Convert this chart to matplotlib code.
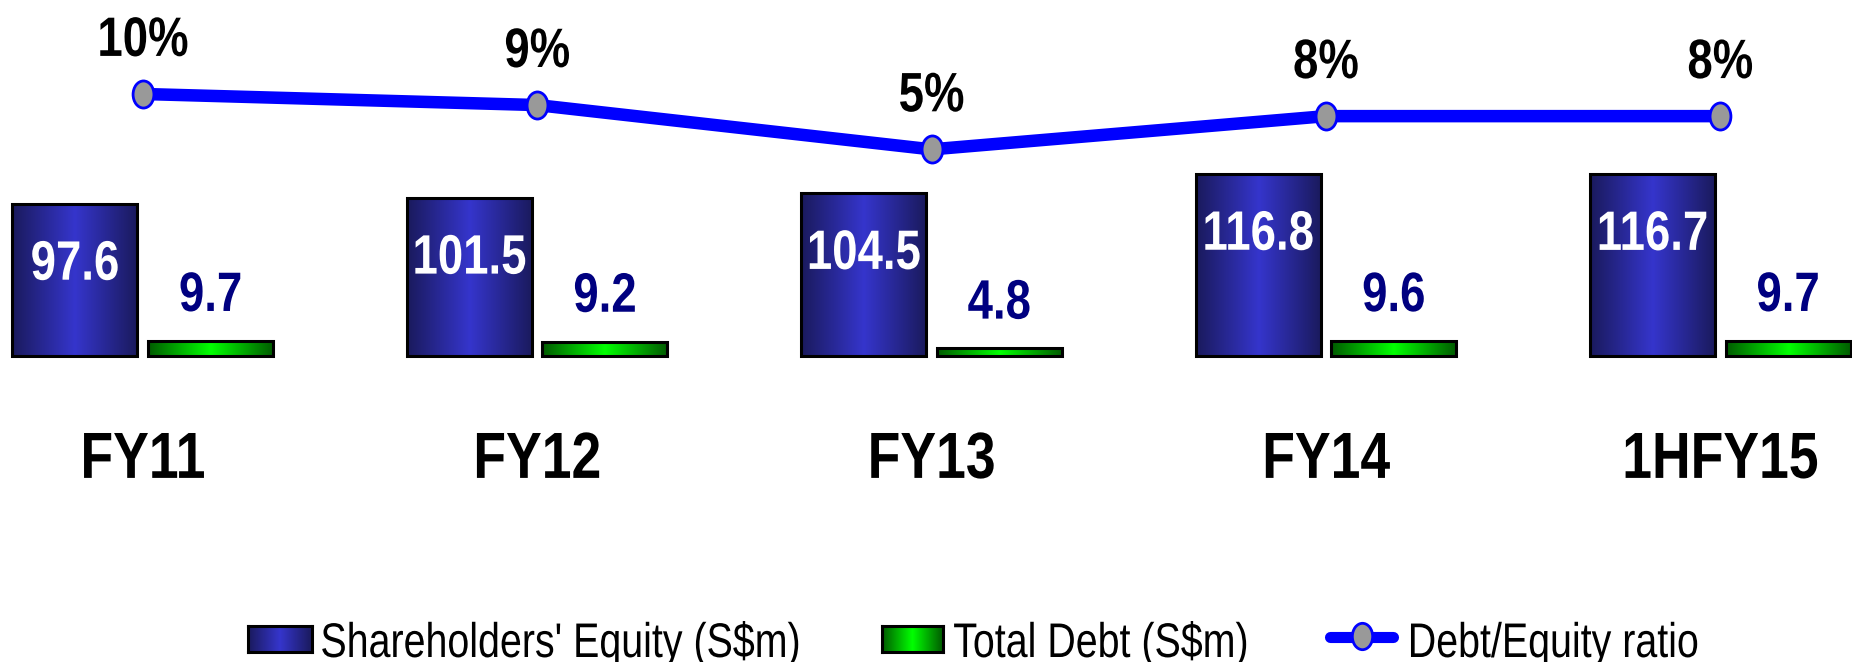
import numpy as np
import matplotlib
matplotlib.use("Agg")
import matplotlib.pyplot as plt
from matplotlib import font_manager
from matplotlib.patches import Rectangle
from matplotlib.lines import Line2D
from matplotlib.path import Path
from matplotlib.colors import LinearSegmentedColormap
from matplotlib.patheffects import AbstractPathEffect
from matplotlib.transforms import Affine2D

# ---- data ----
categories = ["FY11", "FY12", "FY13", "FY14", "1HFY15"]
equity = [97.6, 101.5, 104.5, 116.8, 116.7]
debt = [9.7, 9.2, 4.8, 9.6, 9.7]
ratio = [10, 9, 5, 8, 8]
ratio_labels = ["10%", "9%", "5%", "8%", "8%"]
series_names = ["Shareholders' Equity (S$m)", "Total Debt (S$m)", "Debt/Equity ratio"]

# ---- font ----
def pick_font(names):
    for n in names:
        try:
            font_manager.findfont(n, fallback_to_default=False)
            return n
        except Exception:
            pass
    return "DejaVu Sans"

NARROW = pick_font(["Liberation Sans Narrow", "Arial Narrow"])
if NARROW in ("Liberation Sans Narrow", "Arial Narrow"):
    FONT, SX = NARROW, 1.0
else:
    FONT, SX = pick_font(["Liberation Sans", "Arial", "Arimo"]), 0.82
plt.rcParams["font.family"] = [FONT, "DejaVu Sans"]


class HSqueeze(AbstractPathEffect):
    """Draw the text glyphs horizontally condensed (Arial Narrow look)."""
    def __init__(self, sx=0.82, anchor="center"):
        super().__init__()
        self.sx = sx
        self.anchor = anchor

    def draw_path(self, renderer, gc, tpath, affine, rgbFace=None):
        ext = tpath.get_extents(affine)
        cx = ext.x0 if self.anchor == "left" else 0.5 * (ext.x0 + ext.x1)
        t = affine + Affine2D().translate(-cx, 0).scale(self.sx, 1).translate(cx, 0)
        renderer.draw_path(gc, tpath, t, rgbFace)


def pe(anchor="center", sx=None):
    return [HSqueeze(SX if sx is None else sx, anchor)]


W, H = 1852, 662
fig = plt.figure(figsize=(W / 100, H / 100), dpi=100)
ax = fig.add_axes([0, 0, 1, 1])
ax.axis("off")

x = np.arange(len(categories))
bw = 0.317
off = 0.172
XL = (-0.362, 4.334)

eq_cmap = LinearSegmentedColormap.from_list("eq", ["#1a1a5c", "#3535cc", "#1a1a5c"])
dt_cmap = LinearSegmentedColormap.from_list("dt", ["#005a00", "#00ff00", "#005a00"])
grad = np.linspace(0, 1, 256).reshape(1, -1)


def grad_bars(container, cmap):
    for r in container:
        x0, y0 = r.get_x(), r.get_y()
        w, h = r.get_width(), r.get_height()
        im = ax.imshow(grad, cmap=cmap, aspect="auto",
                       extent=(x0, x0 + w, y0, y0 + h), zorder=2)
        im.set_clip_path(r)
        r.set_facecolor("none")


bars_eq = ax.bar(x - off, equity, bw, edgecolor="black", linewidth=2.2, zorder=3)
bars_dt = ax.bar(x + off, debt, bw, edgecolor="black", linewidth=2.2, zorder=3)
grad_bars(bars_eq, eq_cmap)
grad_bars(bars_dt, dt_cmap)
ax.set_xlim(*XL)
ax.set_ylim(-196.2, 228.2)

for xi, v in zip(x, equity):
    ax.annotate(f"{v:.1f}", (xi - off, v), xytext=(0, -54.7), textcoords="offset points",
                ha="center", va="baseline", color="white", fontsize=40,
                fontweight="bold", zorder=5, path_effects=pe())
for xi, v in zip(x, debt):
    ax.annotate(f"{v:.1f}", (xi + off, v), xytext=(0, 21.5), textcoords="offset points",
                ha="center", va="baseline", color="#000080", fontsize=40,
                fontweight="bold", zorder=5, path_effects=pe())
for xi, c in zip(x, categories):
    ax.annotate(c, (xi, 0), xytext=(0, -87.8), textcoords="offset points",
                ha="center", va="baseline", color="black", fontsize=47,
                fontweight="bold", zorder=5, path_effects=pe())

# elliptical marker (taller than wide), as in the reference
circ = Path.unit_circle()
ell_marker = Path(circ.vertices * np.array([0.77, 1.0]), circ.codes)

ax2 = ax.twinx()
ax2.set_position([0, 0, 1, 1])
ax2.axis("off")
ax2.plot(x, ratio, color="#0000ff", linewidth=9, marker=ell_marker, markersize=19.5,
         markerfacecolor="#999999", markeredgecolor="#0000ff", markeredgewidth=2,
         zorder=4, solid_capstyle="butt")
for xi, v, lab in zip(x, ratio, ratio_labels):
    ax2.annotate(lab, (xi, v), xytext=(0, 27.4), textcoords="offset points",
                 ha="center", va="baseline", color="black", fontsize=40,
                 fontweight="bold", path_effects=pe())
ax2.set_xlim(*XL)
ax2.set_ylim(-41.26, 18.48)

# ---- legend (placed item by item, pixel positions from the reference) ----
def fx(px):
    return px / W


def fy(py_top):
    return (H - py_top) / H


legend_items = [
    ("patch", eq_cmap, 248, 312, 320),
    ("patch", dt_cmap, 882, 943, 953),
    ("line", None, 1325, 1398, 1407),
]
for (kind, cmap, x0, x1, tx), name in zip(legend_items, series_names):
    if kind == "patch":
        lax = fig.add_axes([fx(x0), fy(652), fx(x1) - fx(x0), fy(626) - fy(652)])
        lax.imshow(grad, cmap=cmap, aspect="auto", extent=(0, 1, 0, 1))
        lax.set_xticks([])
        lax.set_yticks([])
        for s in lax.spines.values():
            s.set_linewidth(2.2)
            s.set_color("black")
    else:
        ln = Line2D([fx(x0 + 5), fx(x1 - 5)], [fy(637), fy(637)], transform=fig.transFigure,
                    color="#0000ff", linewidth=8, solid_capstyle="round")
        fig.add_artist(ln)
        mk = Line2D([fx((x0 + x1) / 2)], [fy(636)], transform=fig.transFigure,
                    marker=ell_marker, markersize=19, markerfacecolor="#999999",
                    markeredgecolor="#0000ff", markeredgewidth=2, linestyle="none")
        fig.add_artist(mk)
    fig.text(fx(tx), fy(657), name, ha="left", va="baseline", fontsize=35,
             color="black", path_effects=pe("left", 0.81 if SX != 1.0 else 1.0))

fig.savefig("out.png", dpi=100)
